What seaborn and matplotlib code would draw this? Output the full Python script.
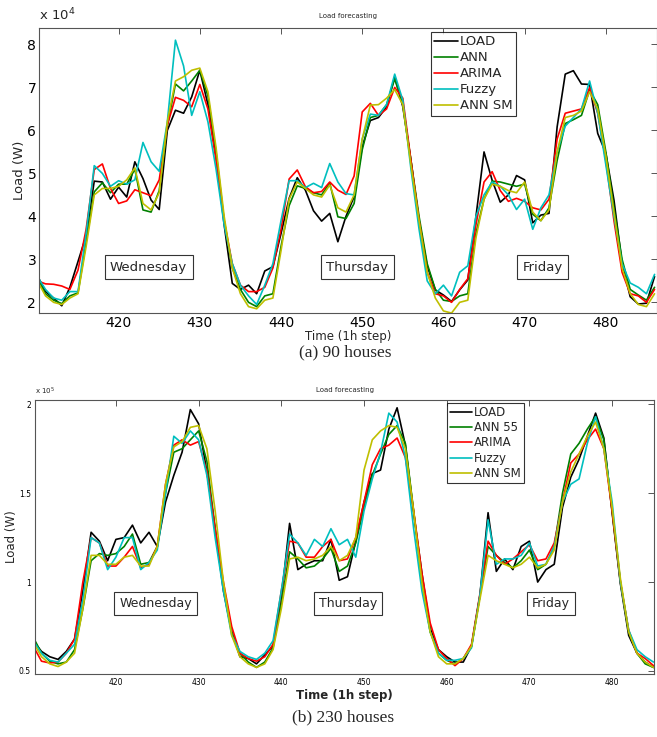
import numpy as np
import pandas as pd
import matplotlib
matplotlib.use("Agg")
import matplotlib.pyplot as plt
import seaborn as sns

# ---- data ----
series_90 = ["LOAD", "ANN", "ARIMA", "Fuzzy", "ANN SM"]
series_230 = ["LOAD", "ANN 55", "ARIMA", "Fuzzy", "ANN SM"]

hours_90 = np.arange(410, 487)
hours_230 = np.arange(410, 486)

# 90 houses, load in units of 1e4 W
load_90 = [2.62, 2.25, 2.1, 1.92, 2.35, 2.95, 3.55, 4.82, 4.8, 4.4, 4.68, 4.45, 5.27, 4.88, 4.38, 4.16,
           6.0, 6.47, 6.4, 6.78, 7.4, 6.6, 5.4, 3.8, 2.44, 2.3, 2.4, 2.2, 2.73, 2.83, 3.6, 4.42, 4.9,
           4.61, 4.13, 3.89, 4.07, 3.41, 4.0, 4.46, 5.62, 6.23, 6.3, 6.55, 7.25, 6.55, 5.3, 3.9, 2.85,
           2.29, 2.17, 2.02, 2.29, 2.52, 3.99, 5.5, 4.84, 4.33, 4.5, 4.95, 4.85, 3.85, 4.03, 4.07, 6.08,
           7.31, 7.39, 7.08, 7.07, 5.93, 5.47, 4.38, 2.9, 2.13, 1.96, 1.98, 2.6]
ann_90 = [2.55, 2.2, 2.05, 1.97, 2.15, 2.22, 3.4, 4.57, 4.78, 4.55, 4.75, 4.75, 5.1, 4.15, 4.1, 4.6,
          6.1, 7.08, 6.92, 7.15, 7.4, 6.8, 5.5, 3.9, 2.8, 2.3, 2.0, 1.9, 2.15, 2.2, 3.3, 4.25, 4.71,
          4.65, 4.55, 4.5, 4.78, 3.99, 3.95, 4.3, 5.55, 6.3, 6.35, 6.6, 7.2, 6.6, 5.3, 4.0, 2.9, 2.3,
          2.05, 2.02, 2.15, 2.2, 3.6, 4.4, 4.82, 4.8, 4.75, 4.7, 4.75, 4.05, 3.9, 4.2, 5.3, 6.16, 6.25,
          6.35, 6.94, 6.6, 5.5, 4.2, 3.0, 2.3, 2.17, 2.05, 2.35]
arima_90 = [2.5, 2.43, 2.42, 2.38, 2.3, 2.75, 3.7, 5.09, 5.22, 4.65, 4.3, 4.36, 4.62, 4.55, 4.48, 4.85,
            6.12, 6.77, 6.7, 6.55, 7.07, 6.5, 5.3, 3.9, 2.9, 2.4, 2.25, 2.25, 2.35, 2.8, 3.7, 4.87, 5.08,
            4.69, 4.55, 4.58, 4.8, 4.61, 4.51, 4.94, 6.43, 6.63, 6.35, 6.5, 7.0, 6.75, 5.3, 3.9, 2.7, 2.2,
            2.15, 2.0, 2.3, 2.55, 3.8, 4.8, 5.04, 4.6, 4.35, 4.42, 4.35, 4.2, 4.15, 4.4, 5.8, 6.4, 6.45,
            6.5, 7.0, 6.4, 5.3, 3.9, 2.7, 2.2, 2.15, 2.0, 2.3]
fuzzy_90 = [2.6, 2.3, 2.1, 2.05, 2.25, 2.25, 3.6, 5.18, 5.0, 4.7, 4.83, 4.75, 4.85, 5.72, 5.27, 5.05,
            6.2, 8.1, 7.5, 6.35, 6.9, 6.2, 5.1, 3.8, 2.9, 2.4, 2.15, 1.95, 2.4, 2.9, 3.9, 4.83, 4.83,
            4.67, 4.77, 4.67, 5.23, 4.8, 4.53, 4.5, 5.8, 6.38, 6.35, 6.6, 7.31, 6.7, 5.1, 3.7, 2.5, 2.2,
            2.4, 2.15, 2.7, 2.85, 4.0, 4.5, 4.8, 4.7, 4.5, 4.16, 4.4, 3.7, 4.2, 4.5, 5.5, 6.1, 6.3, 6.5,
            7.15, 6.4, 5.2, 4.0, 2.9, 2.45, 2.35, 2.2, 2.65]
annsm_90 = [2.5, 2.15, 2.0, 1.95, 2.1, 2.2, 3.3, 4.5, 4.65, 4.65, 4.7, 4.85, 5.13, 4.3, 4.15, 4.55,
            6.2, 7.15, 7.25, 7.4, 7.45, 6.9, 5.6, 4.0, 2.8, 2.2, 1.9, 1.85, 2.05, 2.1, 3.2, 4.4, 4.8,
            4.65, 4.5, 4.45, 4.73, 4.2, 4.1, 4.5, 5.8, 6.59, 6.6, 6.75, 6.95, 6.6, 5.2, 3.9, 2.7, 2.1,
            1.8, 1.75, 2.0, 2.05, 3.5, 4.4, 4.75, 4.7, 4.6, 4.55, 4.8, 4.1, 3.9, 4.15, 5.5, 6.3, 6.35,
            6.45, 6.9, 6.5, 5.4, 4.1, 2.8, 2.2, 1.95, 1.9, 2.2]

# 230 houses, load in units of 1e5 W
load_230 = [0.67, 0.61, 0.58, 0.565, 0.61, 0.68, 0.95, 1.28, 1.23, 1.12, 1.24, 1.25, 1.32, 1.22, 1.28, 1.2,
            1.45, 1.6, 1.73, 1.97, 1.89, 1.62, 1.3, 0.95, 0.72, 0.58, 0.57, 0.54, 0.59, 0.64, 0.91, 1.33,
            1.07, 1.1, 1.12, 1.12, 1.24, 1.01, 1.03, 1.23, 1.45, 1.61, 1.63, 1.86, 1.98, 1.77, 1.39, 1.05,
            0.74, 0.62, 0.58, 0.55, 0.55, 0.64, 0.92, 1.39, 1.06, 1.13, 1.07, 1.2, 1.23, 1.0, 1.07, 1.1,
            1.42, 1.59, 1.69, 1.82, 1.95, 1.81, 1.39, 0.99, 0.7, 0.6, 0.55, 0.52]
ann_230 = [0.69, 0.6, 0.555, 0.54, 0.55, 0.62, 0.85, 1.12, 1.16, 1.15, 1.16, 1.2, 1.27, 1.1, 1.11, 1.2,
           1.5, 1.73, 1.75, 1.8, 1.85, 1.68, 1.3, 0.98, 0.72, 0.6, 0.55, 0.52, 0.55, 0.63, 0.88, 1.17,
           1.13, 1.08, 1.09, 1.13, 1.19, 1.06, 1.09, 1.22, 1.42, 1.6, 1.72, 1.83, 1.88, 1.78, 1.4, 1.0,
           0.72, 0.6, 0.56, 0.54, 0.57, 0.64, 0.92, 1.2, 1.15, 1.11, 1.08, 1.12, 1.18, 1.07, 1.1, 1.2,
           1.5, 1.72, 1.78, 1.86, 1.93, 1.8, 1.4, 1.0, 0.72, 0.6, 0.54, 0.52]
arima_230 = [0.64, 0.555, 0.545, 0.55, 0.6, 0.68, 1.0, 1.25, 1.22, 1.09, 1.09, 1.14, 1.2, 1.08, 1.1, 1.2,
             1.55, 1.77, 1.8, 1.77, 1.79, 1.62, 1.3, 1.0, 0.75, 0.6, 0.57, 0.555, 0.58, 0.65, 0.95, 1.23,
             1.22, 1.14, 1.14, 1.2, 1.24, 1.12, 1.13, 1.25, 1.45, 1.66, 1.75, 1.77, 1.81, 1.7, 1.4, 1.05,
             0.77, 0.62, 0.57, 0.53, 0.57, 0.65, 0.93, 1.23, 1.15, 1.1, 1.13, 1.17, 1.21, 1.12, 1.13, 1.22,
             1.45, 1.67, 1.72, 1.8, 1.86, 1.75, 1.4, 1.0, 0.73, 0.6, 0.57, 0.53]
fuzzy_230 = [0.67, 0.6, 0.56, 0.55, 0.6, 0.65, 0.9, 1.25, 1.22, 1.07, 1.14, 1.25, 1.25, 1.07, 1.11, 1.18,
             1.5, 1.82, 1.78, 1.85, 1.8, 1.6, 1.25, 0.95, 0.7, 0.61, 0.58, 0.565, 0.6, 0.67, 0.95, 1.27,
             1.22, 1.15, 1.24, 1.2, 1.3, 1.21, 1.24, 1.14, 1.4, 1.58, 1.73, 1.95, 1.9, 1.7, 1.3, 0.95,
             0.72, 0.6, 0.56, 0.56, 0.57, 0.63, 0.92, 1.35, 1.1, 1.13, 1.13, 1.15, 1.22, 1.09, 1.1, 1.2,
             1.45, 1.55, 1.58, 1.78, 1.93, 1.75, 1.45, 1.0, 0.73, 0.62, 0.58, 0.55]
annsm_230 = [0.66, 0.58, 0.54, 0.525, 0.55, 0.6, 0.85, 1.15, 1.15, 1.1, 1.1, 1.14, 1.15, 1.09, 1.09, 1.2,
             1.55, 1.76, 1.79, 1.87, 1.88, 1.75, 1.4, 1.0, 0.7, 0.58, 0.54, 0.52, 0.54, 0.62, 0.85, 1.13,
             1.14, 1.12, 1.13, 1.15, 1.2, 1.12, 1.15, 1.25, 1.63, 1.8, 1.85, 1.88, 1.87, 1.75, 1.4, 1.0,
             0.72, 0.58, 0.54, 0.54, 0.57, 0.64, 0.9, 1.15, 1.12, 1.1, 1.08, 1.1, 1.14, 1.08, 1.1, 1.18,
             1.45, 1.62, 1.72, 1.82, 1.9, 1.75, 1.42, 1.02, 0.72, 0.6, 0.55, 0.52]

days = ["Wednesday", "Thursday", "Friday"]
day_x_90 = [423.7, 449.4, 472.2]
day_x_230 = [424.8, 448.1, 472.6]

colors = ["#000000", "#008000", "#ff0000", "#00bfbf", "#bfbf00"]


def long_df(hours, cols, names):
    frames = [pd.DataFrame({"t": hours, "load": v, "series": n}) for v, n in zip(cols, names)]
    return pd.concat(frames, ignore_index=True)


df_90 = long_df(hours_90, [load_90, ann_90, arima_90, fuzzy_90, annsm_90], series_90)
df_230 = long_df(hours_230, [load_230, ann_230, arima_230, fuzzy_230, annsm_230], series_230)

sns.set_theme(style="white")
plt.rcParams["font.family"] = ["DejaVu Sans"]

fig = plt.figure(figsize=(6.57, 7.37), dpi=100)
ax1 = fig.add_axes([0.0594, 0.5749, 0.9406, 0.3875])
ax2 = fig.add_axes([0.0537, 0.0855, 0.9422, 0.3718])


def style_axes(ax, tick_size, pad=3):
    for s in ax.spines.values():
        s.set_color("#555555")
        s.set_linewidth(0.8)
    ax.tick_params(direction="in", top=True, right=True, length=4, width=0.7,
                   colors="#555555", labelcolor="black", labelsize=tick_size, pad=pad)


# ---- (a) 90 houses ----
sns.lineplot(data=df_90, x="t", y="load", hue="series", hue_order=series_90,
             palette=dict(zip(series_90, colors)), linewidth=1.2, ax=ax1)
ax1.set_xlim(410.2, 486.3)
ax1.set_ylim(1.745, 8.39)
ax1.set_xticks([420, 430, 440, 450, 460, 470, 480])
ax1.set_yticks([2, 3, 4, 5, 6, 7, 8])
style_axes(ax1, 10, pad=2)
ax1.set_xlabel("Time (1h step)", fontsize=8.5, labelpad=0)
ax1.set_ylabel("Load (W)", fontsize=9.5, labelpad=1)
ax1.set_title("Load forecasting", fontsize=5, pad=7)
ax1.text(0.0, 1.015, r"x 10$^4$", transform=ax1.transAxes, fontsize=9.5, va="bottom")
leg1 = ax1.legend(loc="upper left", bbox_to_anchor=(0.634, 0.985), fontsize=9.5, frameon=True,
                  fancybox=False, edgecolor="black", borderpad=0.25, labelspacing=0.23,
                  handlelength=1.8, handletextpad=0.15, borderaxespad=0)
leg1.get_frame().set_linewidth(0.8)
for name, x in zip(days, day_x_90):
    ax1.text(x, 2.82, name, ha="center", va="center", fontsize=9.5,
             bbox=dict(boxstyle="square,pad=0.4", fc="white", ec="#333333", lw=0.8))

# ---- (b) 230 houses ----
sns.lineplot(data=df_230, x="t", y="load", hue="series", hue_order=series_230,
             palette=dict(zip(series_230, colors)), linewidth=1.2, ax=ax2)
ax2.set_xlim(410.25, 485.1)
ax2.set_ylim(0.483, 2.024)
ax2.set_xticks([420, 430, 440, 450, 460, 470, 480])
ax2.set_yticks([0.5, 1, 1.5, 2])
ax2.set_yticklabels(["0.5", "1", "1.5", "2"])
style_axes(ax2, 5.5)
ax2.set_xlabel("Time (1h step)", fontsize=8.5, fontweight="bold", labelpad=1)
ax2.set_ylabel("Load (W)", fontsize=8.5, labelpad=1)
ax2.set_title("Load forecasting", fontsize=5, pad=6)
ax2.text(0.0, 1.01, r"x 10$^5$", transform=ax2.transAxes, fontsize=5, va="bottom")
leg2 = ax2.legend(loc="upper left", bbox_to_anchor=(0.665, 0.99), fontsize=8.5, frameon=True,
                  fancybox=False, edgecolor="black", borderpad=0.25, labelspacing=0.2,
                  handlelength=1.9, handletextpad=0.15, borderaxespad=0)
leg2.get_frame().set_linewidth(0.8)
for name, x in zip(days, day_x_230):
    ax2.text(x, 0.88, name, ha="center", va="center", fontsize=9,
             bbox=dict(boxstyle="square,pad=0.4", fc="white", ec="#333333", lw=0.8))

fig.text(0.525, 0.522, "(a) 90 houses", ha="center", va="center", fontsize=12.5,
         family=["Liberation Serif"])
fig.text(0.522, 0.026, "(b) 230 houses", ha="center", va="center", fontsize=12.5,
         family=["Liberation Serif"])

fig.savefig("out.png", dpi=100)
